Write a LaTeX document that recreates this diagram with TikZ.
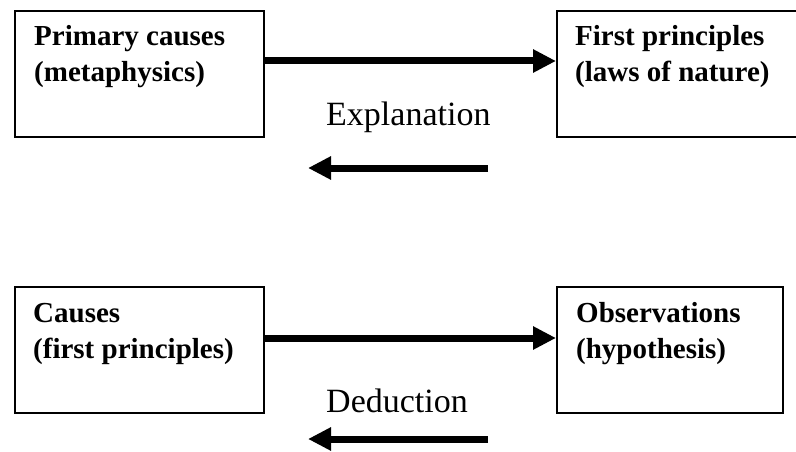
\documentclass[tikz,border=0pt]{standalone}
\usepackage{fontspec}
\setmainfont{Liberation Serif}
\usetikzlibrary{arrows.meta}
\begin{document}
\begin{tikzpicture}[x=1pt,y=-1pt,
  boxnode/.style={draw,line width=2pt,anchor=north west,inner sep=0pt},
  boxtext/.style={anchor=base west,align=left,inner sep=0pt,
    font=\fontsize{29}{36}\selectfont\bfseries},
  labeltext/.style={anchor=base west,inner sep=0pt,font=\fontsize{34}{40}\selectfont},
  bigarrow/.style={line width=7pt,-{Triangle[length=23pt,width=22pt]}}]
\useasboundingbox (0,0) rectangle (796,452);
% top row
\node[boxnode,minimum width=249pt,minimum height=126pt] (b1) at (14,10) {};
\node[boxnode,minimum width=250pt,minimum height=126pt] (b2) at (556,10) {};
\node[boxtext] (t1) at (34,82) {Primary causes\\(metaphysics)};
\node[boxtext] (t2) at (575,82) {First principles\\(laws of nature)};
\draw[bigarrow] ([yshift=13pt]b1.east) -- ([yshift=13pt]b2.west);
\node[labeltext] (l1) at (326,125) {Explanation};
\coordinate (r1s) at (488,168);
\coordinate (r1e) at (308,168);
\draw[bigarrow] (r1s) -- (r1e);
% bottom row
\node[boxnode,minimum width=249pt,minimum height=126pt] (b3) at (14,286) {};
\node[boxnode,minimum width=226pt,minimum height=126pt] (b4) at (556,286) {};
\node[boxtext] (t3) at (33,358) {Causes\\(first principles)};
\node[boxtext] (t4) at (576,358) {Observations\\(hypothesis)};
\draw[bigarrow] ([yshift=12pt]b3.east) -- ([yshift=12pt]b4.west);
\node[labeltext] (l2) at (326,412) {Deduction};
\coordinate (r2s) at (488,439);
\coordinate (r2e) at (308,439);
\draw[bigarrow] (r2s) -- (r2e);
\end{tikzpicture}
\end{document}
